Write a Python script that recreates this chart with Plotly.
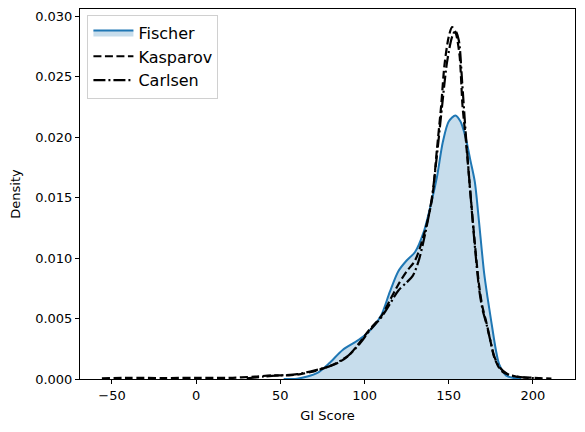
"""
GI score density curves (KDE-style) for three players
"""

import plotly.graph_objects as go

# Fischer density
fischer_x = [52, 60, 66, 72, 79, 87, 95, 100, 105, 110, 115, 120, 125, 130, 135,
             140, 143, 146.5, 150, 154, 157, 160, 163, 165.5, 168, 171, 173, 175,
             178, 180, 184, 188, 193]
fischer_y = [0, 0.00003, 0.0002, 0.0005, 0.0013, 0.0024, 0.0031, 0.0036, 0.0043,
             0.0053, 0.0072, 0.0089, 0.0098, 0.0105, 0.0121, 0.0148, 0.0167, 0.0196,
             0.0213, 0.0218, 0.0213, 0.0200, 0.0180, 0.0163, 0.0130, 0.0088, 0.0068,
             0.0050, 0.0024, 0.0012, 0.0003, 0.0001, 0]

# Kasparov density
kasparov_x = [-56, -40, -20, 0, 20, 35, 45, 55, 62, 71.5, 78, 85, 91, 97, 103, 110,
              115, 120, 125, 130, 135, 140, 143, 145.5, 147.5, 150, 152, 154, 156.4,
              158.2, 160, 162.5, 165, 168, 170, 172.5, 175, 177, 180, 182, 185, 190,
              200, 211]
kasparov_y = [0.00005, 0.0001, 0.00008, 0.0001, 0.0001, 0.0002, 0.0003, 0.0003,
              0.0004, 0.0007, 0.001, 0.0014, 0.002, 0.003, 0.0041, 0.0052, 0.0065,
              0.0078, 0.0089, 0.0098, 0.0118, 0.0148, 0.0190, 0.0226, 0.026, 0.0283,
              0.0291, 0.0287, 0.0268, 0.0226, 0.0200, 0.0160, 0.0120, 0.0078, 0.0060,
              0.0046, 0.0030, 0.0018, 0.0009, 0.0006, 0.0004, 0.0002, 0.0001, 0.00003]

# Carlsen density
carlsen_x = [30, 40, 50, 60, 70, 80, 90, 97, 103, 110, 115, 120, 125, 128.5, 132,
             136, 140, 143, 146, 149, 152, 154, 156, 158, 160, 162.5, 165, 168, 170,
             172.5, 175, 177, 180, 185, 190, 197, 205]
carlsen_y = [0.00005, 0.0002, 0.0003, 0.0004, 0.0007, 0.0011, 0.0019, 0.0029, 0.004,
             0.0051, 0.0062, 0.0073, 0.0080, 0.0085, 0.0097, 0.0120, 0.0150, 0.0185,
             0.0225, 0.0262, 0.0283, 0.0288, 0.0280, 0.0245, 0.0205, 0.0160, 0.0118,
             0.0075, 0.0058, 0.0045, 0.0030, 0.0019, 0.0010, 0.0004, 0.0002, 0.0001,
             0.00003]

x_ticks = [-50, 0, 50, 100, 150, 200]
y_ticks = [0.000, 0.005, 0.010, 0.015, 0.020, 0.025, 0.030]

BLUE = '#1f77b4'
FONT = 'DejaVu Sans'

fig = go.Figure()

# curve starts and ends at zero, so closing it on itself fills down to the baseline
fig.add_trace(go.Scatter(
    x=fischer_x, y=fischer_y, name='Fischer',
    mode='lines', line=dict(color=BLUE, width=2, shape='spline', smoothing=0.8),
    fill='toself', fillcolor='rgba(31,119,180,0.25)'
))
fig.add_trace(go.Scatter(
    x=kasparov_x, y=kasparov_y, name='Kasparov',
    mode='lines', line=dict(color='black', width=2.2, dash='8px,3.5px',
                            shape='spline', smoothing=0.8)
))
fig.add_trace(go.Scatter(
    x=carlsen_x, y=carlsen_y, name='Carlsen',
    mode='lines', line=dict(color='black', width=2.2, dash='12px,3px,2px,3px',
                            shape='spline', smoothing=0.8)
))

axis_style = dict(
    showline=True, linecolor='black', linewidth=1, mirror=True,
    ticks='outside', ticklen=4, tickcolor='black',
    showgrid=False, zeroline=False, automargin=False,
    tickfont=dict(family=FONT, size=13, color='black'),
)

fig.update_xaxes(
    range=[-69, 225], tickvals=x_ticks, ticktext=[str(v).replace('-', '−') for v in x_ticks],
    title=dict(text='GI Score', font=dict(family=FONT, size=13, color='black'), standoff=9),
    **axis_style
)
fig.update_yaxes(
    range=[0, 0.0306], tickvals=y_ticks, ticktext=[f'{v:.3f}' for v in y_ticks],
    title=dict(text='Density', font=dict(family=FONT, size=13, color='black'), standoff=11),
    **axis_style
)

fig.update_layout(
    width=585, height=432,
    margin=dict(l=80, r=10, t=9, b=53),
    plot_bgcolor='white', paper_bgcolor='white',
    font=dict(family=FONT, size=13, color='black'),
    showlegend=True,
    legend=dict(
        x=0.015, y=0.985, xanchor='left', yanchor='top',
        bgcolor='rgba(255,255,255,0.8)', bordercolor='#d0d0d0', borderwidth=1,
        font=dict(family=FONT, size=16, color='black'),
        tracegroupgap=0, itemwidth=40,
    ),
)

# drop the browser's default page margin so the figure sits at the window corner
fig.write_html("out.html", config={'displayModeBar': False},
               post_script="document.body.style.margin='0';")
